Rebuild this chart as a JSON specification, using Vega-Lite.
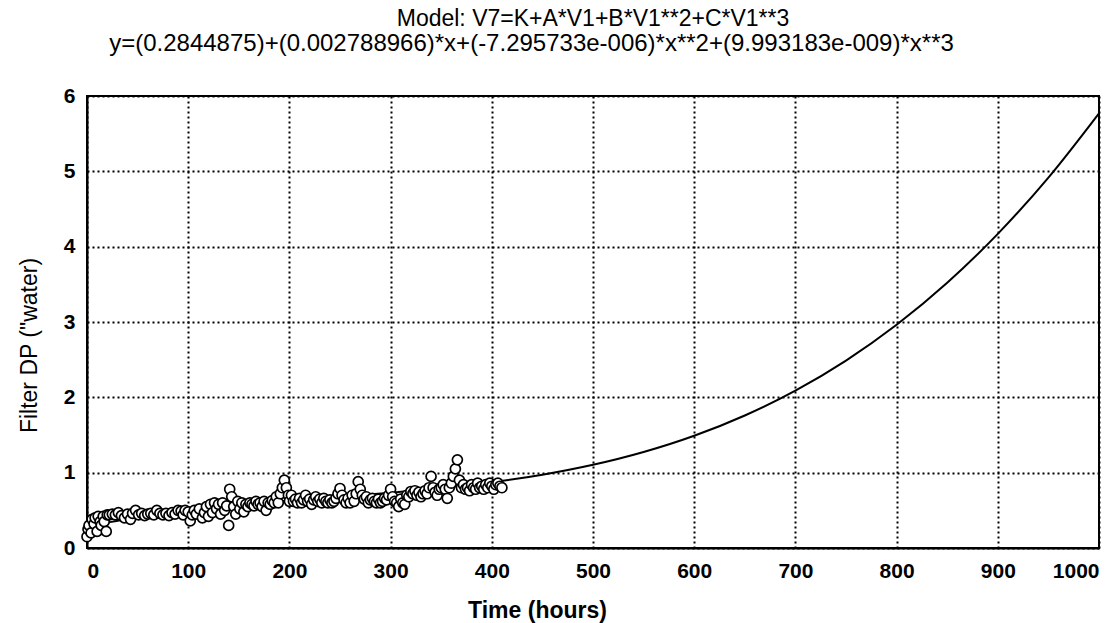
{
  "$schema": "https://vega.github.io/schema/vega-lite/v6.json",
  "autosize": {"type": "none"},
  "padding": {"left": 87, "top": 96, "right": 20, "bottom": 75},
  "width": 1012,
  "height": 452,
  "background": "white",
  "config": {
    "font": "Liberation Sans",
    "view": {"stroke": "black", "strokeWidth": 2},
    "axis": {
      "labelFont": "Liberation Sans", "titleFont": "Liberation Sans",
      "labelColor": "black", "titleColor": "black",
      "labelFontSize": 21, "titleFontSize": 23, "labelFontWeight": "bold", "titleFontWeight": "bold",
      "gridColor": "black", "gridDash": [2, 3], "gridWidth": 2, "gridOpacity": 1,
      "domainColor": "black", "domainWidth": 2, "tickColor": "black"
    }
  },
  "title": {
    "text": "Model: V7=K+A*V1+B*V1**2+C*V1**3",
    "anchor": "middle", "fontSize": 23, "fontWeight": "normal", "font": "Liberation Sans", "color": "black", "offset": 0, "dy": 0
  },
  "datasets": {
    "fit": [
      {"t": 0, "dp": 0.2845}, {"t": 50, "dp": 0.4070}, {"t": 100, "dp": 0.5004}, {"t": 150, "dp": 0.5724},
      {"t": 200, "dp": 0.6304}, {"t": 250, "dp": 0.6819}, {"t": 300, "dp": 0.7344}, {"t": 350, "dp": 0.7953},
      {"t": 400, "dp": 0.8723}, {"t": 450, "dp": 0.9727}, {"t": 500, "dp": 1.1042}, {"t": 550, "dp": 1.2741},
      {"t": 600, "dp": 1.4899}, {"t": 650, "dp": 1.7592}, {"t": 700, "dp": 2.0895}, {"t": 750, "dp": 2.4882},
      {"t": 800, "dp": 2.9629}, {"t": 850, "dp": 3.5210}, {"t": 900, "dp": 4.1700}, {"t": 950, "dp": 4.9175},
      {"t": 1000, "dp": 5.7709}
    ],
    "pts": [
      {"t": 0, "dp": 0.15}, {"t": 1, "dp": 0.25}, {"t": 2, "dp": 0.3}, {"t": 4, "dp": 0.2}, {"t": 5, "dp": 0.38},
      {"t": 7, "dp": 0.32}, {"t": 8, "dp": 0.4}, {"t": 10, "dp": 0.22}, {"t": 11, "dp": 0.42}, {"t": 13, "dp": 0.35},
      {"t": 14, "dp": 0.3}, {"t": 16, "dp": 0.42}, {"t": 17, "dp": 0.35}, {"t": 19, "dp": 0.22}, {"t": 20, "dp": 0.44},
      {"t": 22, "dp": 0.44}, {"t": 25, "dp": 0.45}, {"t": 28, "dp": 0.44}, {"t": 31, "dp": 0.47}, {"t": 34, "dp": 0.43},
      {"t": 37, "dp": 0.4}, {"t": 40, "dp": 0.45}, {"t": 43, "dp": 0.38}, {"t": 45, "dp": 0.46}, {"t": 48, "dp": 0.5},
      {"t": 51, "dp": 0.44}, {"t": 54, "dp": 0.46}, {"t": 57, "dp": 0.43}, {"t": 60, "dp": 0.45}, {"t": 63, "dp": 0.46},
      {"t": 66, "dp": 0.44}, {"t": 69, "dp": 0.5}, {"t": 72, "dp": 0.46}, {"t": 75, "dp": 0.44}, {"t": 78, "dp": 0.46},
      {"t": 81, "dp": 0.43}, {"t": 84, "dp": 0.47}, {"t": 87, "dp": 0.45}, {"t": 90, "dp": 0.5}, {"t": 93, "dp": 0.49},
      {"t": 95, "dp": 0.44}, {"t": 97, "dp": 0.5}, {"t": 100, "dp": 0.48}, {"t": 102, "dp": 0.36}, {"t": 104, "dp": 0.44},
      {"t": 106, "dp": 0.5}, {"t": 108, "dp": 0.45}, {"t": 111, "dp": 0.52}, {"t": 114, "dp": 0.4}, {"t": 116, "dp": 0.47},
      {"t": 118, "dp": 0.55}, {"t": 120, "dp": 0.42}, {"t": 122, "dp": 0.58}, {"t": 124, "dp": 0.47}, {"t": 126, "dp": 0.6},
      {"t": 128, "dp": 0.52}, {"t": 130, "dp": 0.58}, {"t": 132, "dp": 0.45}, {"t": 134, "dp": 0.6}, {"t": 136, "dp": 0.5},
      {"t": 138, "dp": 0.56}, {"t": 140, "dp": 0.3}, {"t": 141, "dp": 0.78}, {"t": 143, "dp": 0.68}, {"t": 145, "dp": 0.55},
      {"t": 147, "dp": 0.45}, {"t": 149, "dp": 0.62}, {"t": 151, "dp": 0.52}, {"t": 153, "dp": 0.6}, {"t": 155, "dp": 0.48},
      {"t": 157, "dp": 0.58}, {"t": 159, "dp": 0.55}, {"t": 161, "dp": 0.6}, {"t": 163, "dp": 0.58}, {"t": 165, "dp": 0.56},
      {"t": 167, "dp": 0.62}, {"t": 169, "dp": 0.58}, {"t": 171, "dp": 0.6}, {"t": 173, "dp": 0.55}, {"t": 175, "dp": 0.62},
      {"t": 177, "dp": 0.5}, {"t": 179, "dp": 0.6}, {"t": 181, "dp": 0.58}, {"t": 183, "dp": 0.63}, {"t": 185, "dp": 0.6},
      {"t": 187, "dp": 0.68}, {"t": 189, "dp": 0.6}, {"t": 191, "dp": 0.72}, {"t": 193, "dp": 0.8}, {"t": 195, "dp": 0.9},
      {"t": 197, "dp": 0.8}, {"t": 199, "dp": 0.7}, {"t": 200, "dp": 0.62}, {"t": 202, "dp": 0.7}, {"t": 204, "dp": 0.62},
      {"t": 206, "dp": 0.65}, {"t": 208, "dp": 0.6}, {"t": 210, "dp": 0.66}, {"t": 212, "dp": 0.6}, {"t": 214, "dp": 0.64},
      {"t": 216, "dp": 0.7}, {"t": 218, "dp": 0.62}, {"t": 220, "dp": 0.65}, {"t": 222, "dp": 0.58}, {"t": 224, "dp": 0.64},
      {"t": 226, "dp": 0.68}, {"t": 228, "dp": 0.62}, {"t": 230, "dp": 0.65}, {"t": 232, "dp": 0.6}, {"t": 234, "dp": 0.66},
      {"t": 236, "dp": 0.62}, {"t": 238, "dp": 0.6}, {"t": 240, "dp": 0.64}, {"t": 242, "dp": 0.6}, {"t": 244, "dp": 0.62},
      {"t": 246, "dp": 0.66}, {"t": 248, "dp": 0.72}, {"t": 250, "dp": 0.79}, {"t": 252, "dp": 0.7}, {"t": 254, "dp": 0.64},
      {"t": 256, "dp": 0.6}, {"t": 258, "dp": 0.66}, {"t": 260, "dp": 0.6}, {"t": 262, "dp": 0.7}, {"t": 264, "dp": 0.62},
      {"t": 266, "dp": 0.72}, {"t": 268, "dp": 0.88}, {"t": 270, "dp": 0.78}, {"t": 272, "dp": 0.7}, {"t": 274, "dp": 0.65},
      {"t": 276, "dp": 0.68}, {"t": 278, "dp": 0.6}, {"t": 280, "dp": 0.64}, {"t": 282, "dp": 0.66}, {"t": 284, "dp": 0.62},
      {"t": 286, "dp": 0.6}, {"t": 288, "dp": 0.65}, {"t": 290, "dp": 0.6}, {"t": 292, "dp": 0.62}, {"t": 294, "dp": 0.66},
      {"t": 296, "dp": 0.64}, {"t": 298, "dp": 0.7}, {"t": 300, "dp": 0.78}, {"t": 302, "dp": 0.68}, {"t": 304, "dp": 0.62},
      {"t": 306, "dp": 0.6}, {"t": 308, "dp": 0.55}, {"t": 310, "dp": 0.65}, {"t": 312, "dp": 0.6}, {"t": 314, "dp": 0.58},
      {"t": 316, "dp": 0.7}, {"t": 318, "dp": 0.68}, {"t": 320, "dp": 0.75}, {"t": 322, "dp": 0.72}, {"t": 324, "dp": 0.76},
      {"t": 326, "dp": 0.7}, {"t": 328, "dp": 0.74}, {"t": 330, "dp": 0.68}, {"t": 332, "dp": 0.72}, {"t": 334, "dp": 0.76},
      {"t": 336, "dp": 0.72}, {"t": 338, "dp": 0.8}, {"t": 340, "dp": 0.95}, {"t": 342, "dp": 0.8}, {"t": 344, "dp": 0.74},
      {"t": 346, "dp": 0.7}, {"t": 348, "dp": 0.78}, {"t": 350, "dp": 0.8}, {"t": 352, "dp": 0.84}, {"t": 354, "dp": 0.78},
      {"t": 356, "dp": 0.66}, {"t": 358, "dp": 0.8}, {"t": 360, "dp": 0.86}, {"t": 362, "dp": 0.95}, {"t": 364, "dp": 1.05},
      {"t": 366, "dp": 1.17}, {"t": 368, "dp": 0.9}, {"t": 370, "dp": 0.8}, {"t": 372, "dp": 0.84}, {"t": 374, "dp": 0.78},
      {"t": 376, "dp": 0.8}, {"t": 378, "dp": 0.76}, {"t": 380, "dp": 0.84}, {"t": 382, "dp": 0.8}, {"t": 384, "dp": 0.78},
      {"t": 386, "dp": 0.86}, {"t": 388, "dp": 0.8}, {"t": 390, "dp": 0.82}, {"t": 392, "dp": 0.78}, {"t": 394, "dp": 0.84},
      {"t": 396, "dp": 0.8}, {"t": 398, "dp": 0.86}, {"t": 400, "dp": 0.82}, {"t": 402, "dp": 0.78}, {"t": 404, "dp": 0.84},
      {"t": 406, "dp": 0.86}, {"t": 408, "dp": 0.82}, {"t": 410, "dp": 0.8}
    ]
  },
  "layer": [
    {
      "data": {"name": "fit"},
      "mark": {"type": "line", "color": "black", "strokeWidth": 2, "interpolate": "monotone"},
      "encoding": {
        "x": {"field": "t", "type": "quantitative", "scale": {"domain": [0, 1000], "nice": false},
          "axis": {"orient": "top", "title": "y=(0.2844875)+(0.002788966)*x+(-7.295733e-006)*x**2+(9.993183e-009)*x**3",
            "labels": false, "ticks": false, "domain": false, "grid": false, "titleFontWeight": "normal", "titleFontSize": 24,
            "titlePadding": 41, "titleX": 444, "titleAlign": "center"}},
        "y": {"field": "dp", "type": "quantitative", "scale": {"domain": [0, 6], "nice": false},
          "axis": {"values": [0, 1, 2, 3, 4, 5, 6], "title": "Filter DP (\"water)", "titleFontWeight": "normal", "titleFontSize": 23, "titleY": 249, "grid": true, "ticks": false, "labelPadding": 12, "titlePadding": 22}}
      }
    },
    {
      "data": {"name": "pts"},
      "mark": {"type": "point", "shape": "circle", "filled": true, "fill": "white", "stroke": "black", "strokeWidth": 1.7, "size": 100, "opacity": 1},
      "encoding": {
        "x": {"field": "t", "type": "quantitative", "scale": {"domain": [0, 1000], "nice": false},
          "axis": {"values": [0, 100, 200, 300, 400, 500, 600, 700, 800, 900, 1000], "format": "d", "title": "Time (hours)", "titleX": 450, "grid": true, "ticks": false, "labelPadding": 12, "titlePadding": 18}},
        "y": {"field": "dp", "type": "quantitative", "scale": {"domain": [0, 6], "nice": false},
          "axis": {"values": [0, 1, 2, 3, 4, 5, 6], "title": "Filter DP (\"water)", "titleFontWeight": "normal", "titleFontSize": 23, "titleY": 249, "grid": true, "ticks": false, "labelPadding": 12, "titlePadding": 22}}
      }
    }
  ],
  "resolve": {"axis": {"x": "independent"}}
}
